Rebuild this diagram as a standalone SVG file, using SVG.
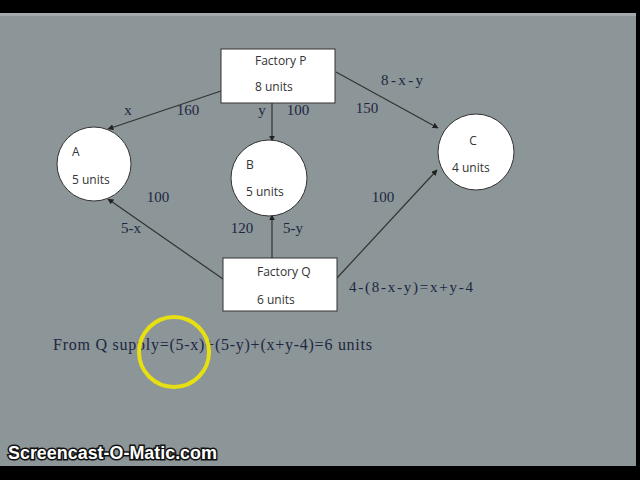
<svg xmlns="http://www.w3.org/2000/svg" width="640" height="480" viewBox="0 0 640 480">
<defs>
<marker id="ah" viewBox="0 0 10 10" refX="9" refY="5" markerWidth="5" markerHeight="5" orient="auto">
<path d="M0,0 L10,5 L0,10 z" fill="#222"/>
</marker>
<style>
.node{fill:#fff;stroke:#333;stroke-width:1}
.nt{font-family:"Open Sans","Liberation Sans",sans-serif;font-size:12px;fill:#333}
.edge{stroke:#333;stroke-width:1.2;fill:none;marker-end:url(#ah)}
.lbl{font-family:"Liberation Serif",serif;font-size:15px;fill:#1c2742}
</style>
</defs>
<rect x="0" y="0" width="640" height="480" fill="#8c9597"/>
<rect x="0" y="0" width="640" height="13" fill="#000"/>
<rect x="0" y="13" width="640" height="3" fill="#a3aaac"/>
<rect x="636" y="0" width="4" height="480" fill="#000"/>
<rect x="0" y="466" width="640" height="14" fill="#000"/>

<g id="connectors">
<line class="edge" x1="221" y1="91" x2="108" y2="129"/>
<line class="edge" x1="272" y1="103" x2="272" y2="141"/>
<line class="edge" x1="336" y1="72" x2="438" y2="128"/>
<line class="edge" x1="223" y1="279" x2="108" y2="199"/>
<line class="edge" x1="272" y1="258" x2="272" y2="215"/>
<line class="edge" x1="337" y1="278" x2="437" y2="170"/>
</g>

<g id="edge-labels">
<text class="lbl" x="128" y="115" text-anchor="middle">x</text>
<text class="lbl" x="188" y="115" text-anchor="middle">160</text>
<text class="lbl" x="262" y="115" text-anchor="middle">y</text>
<text class="lbl" x="298" y="115" text-anchor="middle">100</text>
<text class="lbl" x="381" y="85" textLength="42">8-x-y</text>
<text class="lbl" x="367" y="113" text-anchor="middle">150</text>
<text class="lbl" x="158" y="202" text-anchor="middle">100</text>
<text class="lbl" x="131" y="233" text-anchor="middle">5-x</text>
<text class="lbl" x="242" y="233" text-anchor="middle">120</text>
<text class="lbl" x="293" y="233" text-anchor="middle">5-y</text>
<text class="lbl" x="383" y="202" text-anchor="middle">100</text>
<text class="lbl" x="349" y="292" textLength="124">4-(8-x-y)=x+y-4</text>
</g>

<g id="factory-p">
<rect class="node" x="221" y="49" width="114" height="54"/>
<text class="nt" x="255" y="65">Factory P</text>
<text class="nt" x="255" y="91">8 units</text>
</g>
<g id="node-a">
<circle class="node" cx="94" cy="164" r="37"/>
<text class="nt" x="72" y="156">A</text>
<text class="nt" x="72" y="184">5 units</text>
</g>
<g id="node-b">
<circle class="node" cx="269" cy="178" r="38"/>
<text class="nt" x="246" y="169">B</text>
<text class="nt" x="246" y="196">5 units</text>
</g>
<g id="node-c">
<circle class="node" cx="476" cy="152" r="38"/>
<text class="nt" x="473" y="145" text-anchor="middle">C</text>
<text class="nt" x="452" y="172">4 units</text>
</g>
<g id="factory-q">
<rect class="node" x="223" y="258" width="114" height="53"/>
<text class="nt" x="257" y="276">Factory Q</text>
<text class="nt" x="257" y="304">6 units</text>
</g>

<text x="53" y="350" font-family="Liberation Serif,serif" font-size="16" fill="#1c2742" textLength="319">From Q supply=(5-x)+(5-y)+(x+y-4)=6 units</text>
<circle cx="174" cy="352" r="35" fill="none" stroke="#e6df12" stroke-width="4"/>

<text x="8" y="459" font-family="Liberation Sans,Arial,sans-serif" font-size="18" font-weight="bold" fill="#fff" stroke="#111" stroke-width="3" paint-order="stroke" textLength="209">Screencast-O-Matic.com</text>
</svg>
